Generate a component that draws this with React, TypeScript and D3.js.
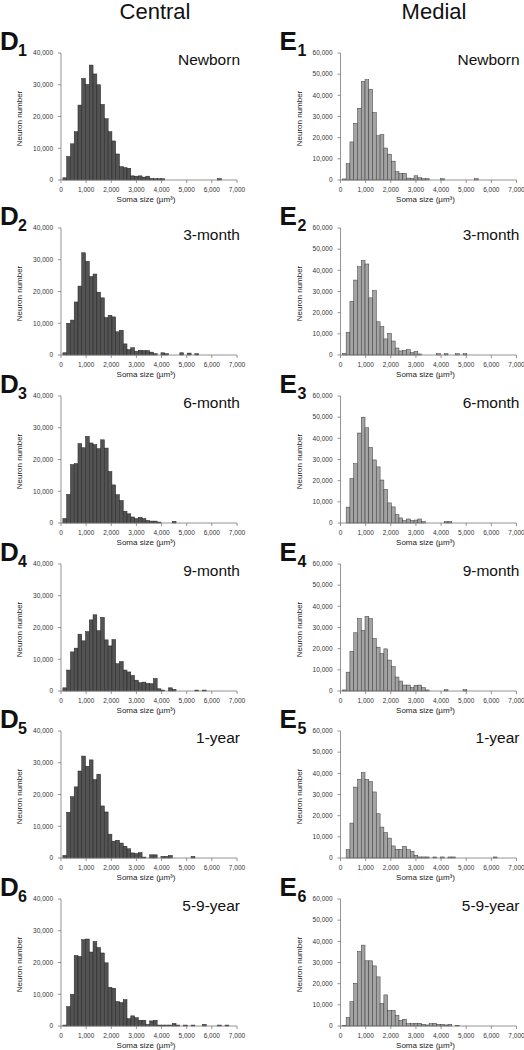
import React from "react";
import * as d3 from "d3";

// bin centers: 150, 300, 450, ... (width 150 µm³)
const binWidth = 150;
const xTicks = [0, 1000, 2000, 3000, 4000, 5000, 6000, 7000];
const yTicksCentral = [0, 10000, 20000, 30000, 40000];
const yTicksMedial = [0, 10000, 20000, 30000, 40000, 50000, 60000];
const stages = ["Newborn", "3-month", "6-month", "9-month", "1-year", "5-9-year"];

const central1 = [700, 7400, 11400, 15200, 23600, 32000, 30100, 36200, 33400, 30000, 23800, 19300, 15200, 12300, 8200, 4200, 3900, 3700, 1300, 1200, 1300, 900, 1200, 500, 400, 400, 400, 0, 0, 0, 0, 0, 0, 0, 0, 0, 0, 0, 0, 0, 0, 400];
const central2 = [700, 10000, 11000, 16700, 21700, 32200, 29500, 24700, 25500, 19800, 18000, 11800, 12500, 12000, 7300, 7800, 3500, 1700, 2300, 1200, 1500, 1400, 1400, 900, 400, 0, 700, 400, 0, 0, 0, 700, 0, 600, 0, 400];
const central3 = [1400, 9000, 18400, 18700, 25000, 23700, 27300, 25200, 24700, 23400, 26200, 23600, 16200, 12000, 8900, 7100, 3700, 2900, 1900, 1400, 1800, 1400, 800, 600, 600, 300, 0, 0, 0, 500];
const central4 = [1000, 6600, 12300, 13500, 17900, 15800, 18700, 22400, 24000, 19000, 23200, 16100, 14200, 16200, 8600, 9300, 6600, 6000, 4900, 3400, 2600, 2800, 2400, 2300, 3900, 700, 300, 0, 1000, 500, 0, 0, 0, 0, 0, 300, 0, 300];
const central5 = [800, 14400, 19300, 22400, 27400, 32100, 28900, 30900, 24700, 26400, 16400, 14500, 7500, 5300, 5600, 4700, 3700, 2900, 1600, 1400, 1700, 300, 0, 1000, 1000, 0, 500, 500, 800, 0, 0, 0, 0, 0, 500];
const central6 = [300, 6100, 10000, 22200, 21900, 27200, 27400, 23300, 26600, 24700, 23000, 19900, 12200, 11900, 7700, 7400, 8300, 2300, 3200, 2600, 1800, 1800, 500, 1600, 1800, 300, 300, 300, 300, 800, 300, 0, 300, 0, 300, 0, 0, 500, 0, 0, 0, 300, 0, 300];

const medial1 = [500, 7700, 18000, 26800, 33900, 46500, 47400, 42900, 31900, 20900, 21500, 15100, 12200, 8900, 3900, 3100, 3100, 900, 600, 2000, 1100, 600, 600, 0, 0, 0, 600, 0, 0, 0, 0, 0, 0, 0, 0, 600];
const medial2 = [800, 10700, 25400, 35400, 41700, 44600, 43000, 27000, 30400, 15700, 13400, 7600, 10200, 6600, 3300, 1900, 2200, 2500, 1100, 1600, 500, 0, 0, 0, 0, 600, 0, 600, 0, 0, 600, 0, 600];
const medial3 = [0, 7500, 21000, 28000, 42500, 50000, 45000, 35700, 29800, 26500, 20300, 15900, 9500, 7600, 4000, 2400, 1100, 1900, 1100, 1400, 1900, 700, 0, 0, 0, 0, 0, 700, 700];
const medial4 = [500, 8900, 18800, 27500, 34200, 28600, 35300, 34200, 24800, 20700, 17700, 19900, 14600, 11500, 6600, 4700, 2800, 2800, 1600, 2700, 2800, 1600, 500, 0, 0, 0, 0, 600, 0, 0, 0, 0, 600];
const medial5 = [0, 3900, 16500, 33500, 37200, 40300, 37200, 36100, 31200, 20900, 14600, 12000, 9400, 5700, 4100, 4100, 5500, 3900, 3100, 1300, 500, 500, 500, 0, 500, 0, 500, 0, 500, 500, 0, 0, 0, 0, 0, 0, 0, 0, 0, 0, 500];
const medial6 = [300, 4000, 11500, 20200, 35200, 38200, 30800, 30800, 28400, 23200, 10600, 14700, 7400, 7400, 5000, 2700, 3200, 1100, 1100, 1300, 1300, 800, 500, 1100, 1300, 800, 800, 500, 800, 0, 300];

const centralSeries = [central1, central2, central3, central4, central5, central6];
const medialSeries = [medial1, medial2, medial3, medial4, medial5, medial6];

const FONT = "'Liberation Sans', Arial, sans-serif";
const tops = [53, 228, 396, 564, 731, 899];
const plotH = 127;

type PanelProps = {
  values: number[];
  x0: number;
  x1: number;
  top: number;
  yMax: number;
  yTicks: number[];
  fill: string;
  stroke: string;
  letter: string;
  sub: string;
  stage: string;
};

function Panel({ values, x0, x1, top, yMax, yTicks, fill, stroke, letter, sub, stage }: PanelProps) {
  const x = d3.scaleLinear().domain([0, 7000]).range([x0, x1]);
  const y = d3.scaleLinear().domain([0, yMax]).range([top + plotH, top]);
  const bottom = top + plotH;
  const fmt = d3.format(",");
  const axisColor = "#7a7a7a";
  return (
    <g>
      <text x={x0 - 61} y={top - 3} fontFamily={FONT} fontWeight="bold" fontSize={26} fill="#111">{letter}</text>
      <text x={x0 - 43} y={top + 3} fontFamily={FONT} fontWeight="bold" fontSize={16} fill="#111">{sub}</text>
      <text x={x1 + 3} y={top + 12} textAnchor="end" fontFamily={FONT} fontSize={15.5} fill="#111">{stage}</text>
      {values.map((v, i) => {
        if (v <= 0) return null;
        const c = binWidth * (i + 1);
        const xl = x(c - binWidth / 2);
        const xr = x(c + binWidth / 2);
        return (
          <rect key={i} x={xl} y={y(v)} width={xr - xl} height={bottom - y(v)} fill={fill} stroke={stroke} strokeWidth={0.5} />
        );
      })}
      <line x1={x0} x2={x0} y1={top} y2={bottom} stroke={axisColor} strokeWidth={0.8} />
      <line x1={x0} x2={x1} y1={bottom} y2={bottom} stroke={axisColor} strokeWidth={0.8} />
      {yTicks.map((t) => (
        <g key={"y" + t}>
          <line x1={x0 - 3} x2={x0} y1={y(t)} y2={y(t)} stroke={axisColor} strokeWidth={0.8} />
          <text x={x0 - 8} y={y(t)} dy="0.35em" textAnchor="end" fontFamily={FONT} fontSize={6.5} fill="#333">{fmt(t)}</text>
        </g>
      ))}
      {xTicks.map((t) => (
        <g key={"x" + t}>
          <line x1={x(t)} x2={x(t)} y1={bottom} y2={bottom + 3} stroke={axisColor} strokeWidth={0.8} />
          <text x={x(t)} y={bottom + 12} textAnchor="middle" fontFamily={FONT} fontSize={6.5} fill="#333">{fmt(t)}</text>
        </g>
      ))}
      <text x={(x0 + x1) / 2 - 3} y={bottom + 21.5} textAnchor="middle" fontFamily={FONT} fontSize={8} fill="#222">Soma size (µm³)</text>
      <text transform={`translate(${x0 - 39},${top + plotH / 2 + 2}) rotate(-90)`} textAnchor="middle" fontFamily={FONT} fontSize={8} fill="#222">Neuron number</text>
    </g>
  );
}

export default function App() {
  return (
    <svg width={524} height={1050} style={{ position: "absolute", left: 0, top: 0, background: "#fff" }}>
      <rect width={524} height={1050} fill="#fff" />
      <text x={155} y={18.5} textAnchor="middle" fontFamily={FONT} fontSize={22} fill="#111">Central</text>
      <text x={434} y={18.5} textAnchor="middle" fontFamily={FONT} fontSize={22} fill="#111">Medial</text>
      {centralSeries.map((vals, i) => (
        <Panel key={"c" + i} values={vals} x0={61} x1={237} top={tops[i]} yMax={40000} yTicks={yTicksCentral}
          fill="#535353" stroke="#222" letter="D" sub={String(i + 1)} stage={stages[i]} />
      ))}
      {medialSeries.map((vals, i) => (
        <Panel key={"m" + i} values={vals} x0={340.5} x1={516.5} top={tops[i]} yMax={60000} yTicks={yTicksMedial}
          fill="#a3a3a3" stroke="#3a3a3a" letter="E" sub={String(i + 1)} stage={stages[i]} />
      ))}
    </svg>
  );
}
